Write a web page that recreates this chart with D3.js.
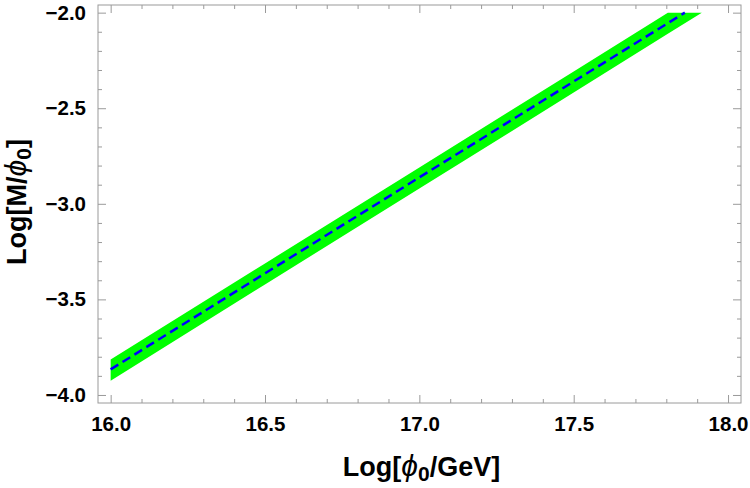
<!DOCTYPE html>
<html>
<head>
<meta charset="utf-8">
<script src="https://cdn.jsdelivr.net/npm/d3@7"></script>
<style>
  html, body { margin: 0; padding: 0; background: #fff; }
  svg { display: block; font-family: "Liberation Sans", Arial, sans-serif; }
</style>
</head>
<body>
<svg id="chart" width="750" height="488"></svg>
<script>
// ---- data ----
const lineX = [16.0, 16.5, 17.0, 17.5, 17.86];
const lineY = [-3.866, -3.364, -2.862, -2.36, -2.0];

const bandX = [16.0, 16.5, 17.0, 17.5, 17.805, 17.915];
const bandUpper = [-3.815, -3.312, -2.81, -2.308, -2.0, -2.0];
const bandLower = [-3.925, -3.422, -2.92, -2.418, -2.11, -2.0];

const xTicks = [16.0, 16.5, 17.0, 17.5, 18.0];
const yTicks = [-4.0, -3.5, -3.0, -2.5, -2.0];
const xMinor = d3.range(16.0, 18.01, 0.1);
const yMinor = d3.range(-4.0, -1.99, 0.1);

// ---- layout ----
const W = 750, H = 488;
const margin = { left: 98, top: 5, right: 9, bottom: 85 };
const iw = W - margin.left - margin.right;
const ih = H - margin.top - margin.bottom;

const svg = d3.select("#chart");
const g = svg.append("g").attr("transform", `translate(${margin.left},${margin.top})`);

const x = d3.scaleLinear().domain([15.959, 18.042]).range([0, iw]);
const y = d3.scaleLinear().domain([-4.042, -1.96]).range([ih, 0]);

const frameColor = "#9a9a9a";

// band
const bandPts = bandX.map((d, i) => [x(d), y(bandUpper[i])])
  .concat(bandX.map((d, i) => [x(d), y(bandLower[i])]).reverse());
g.append("path")
  .attr("d", d3.line()(bandPts) + "Z")
  .attr("fill", "#00ff00")
  .attr("stroke", "none");

// dashed line
g.append("path")
  .datum(lineX.map((d, i) => [d, lineY[i]]))
  .attr("d", d3.line().x(d => x(d[0])).y(d => y(d[1])))
  .attr("fill", "none")
  .attr("stroke", "#0000ff")
  .attr("stroke-width", 2.5)
  .attr("stroke-dasharray", "9,5");

// frame
g.append("rect")
  .attr("x", 0).attr("y", 0).attr("width", iw).attr("height", ih)
  .attr("fill", "none").attr("stroke", frameColor).attr("stroke-width", 1);

const fmt = d3.format(".1f");
const isMajor = (v, arr) => arr.some(t => Math.abs(t - v) < 1e-6);

function styleAxis(sel) {
  sel.select(".domain").remove();
  sel.selectAll(".tick line").attr("stroke", frameColor);
  sel.selectAll(".tick text")
    .attr("fill", "#000")
    .style("font-size", "20.5px")
    .style("font-weight", "bold")
    .style("font-family", "'Liberation Sans', Arial, sans-serif");
}

// bottom
const xb = g.append("g").attr("transform", `translate(0,${ih})`)
  .call(d3.axisBottom(x).tickValues(xMinor).tickSize(-4).tickPadding(13)
    .tickFormat(d => isMajor(d, xTicks) ? fmt(d) : ""));
xb.selectAll(".tick line").attr("y2", d => isMajor(d, xTicks) ? -8 : -4);
styleAxis(xb);

// top
const xt = g.append("g")
  .call(d3.axisTop(x).tickValues(xMinor).tickSize(-4).tickFormat(""));
xt.selectAll(".tick line").attr("y2", d => isMajor(d, xTicks) ? 8 : 4);
styleAxis(xt);

// left
const yl = g.append("g")
  .call(d3.axisLeft(y).tickValues(yMinor).tickSize(-4).tickPadding(12)
    .tickFormat(d => isMajor(d, yTicks) ? fmt(d) : ""));
yl.selectAll(".tick line").attr("x2", d => isMajor(d, yTicks) ? 8 : 4);
styleAxis(yl);

// right
const yr = g.append("g").attr("transform", `translate(${iw},0)`)
  .call(d3.axisRight(y).tickValues(yMinor).tickSize(-4).tickFormat(""));
yr.selectAll(".tick line").attr("x2", d => isMajor(d, yTicks) ? -8 : -4);
styleAxis(yr);

// axis titles
const xt1 = svg.append("text")
  .attr("x", margin.left + iw / 2 + 2)
  .attr("y", 476)
  .attr("text-anchor", "middle")
  .style("font-size", "27px").style("font-weight", "bold").attr("fill", "#000");
xt1.append("tspan").text("Log[");
xt1.append("tspan").style("font-style", "italic").style("font-weight", "normal").style("font-size", "30px").text("ϕ");
xt1.append("tspan").attr("dy", 5).style("font-size", "21px").text("0");
xt1.append("tspan").attr("dy", -5).text("/GeV]");

const yt1 = svg.append("text")
  .attr("transform", `translate(26,${margin.top + ih / 2 - 2}) rotate(-90)`)
  .attr("text-anchor", "middle")
  .style("font-size", "27px").style("font-weight", "bold").attr("fill", "#000");
yt1.append("tspan").text("Log[M/");
yt1.append("tspan").style("font-style", "italic").style("font-weight", "normal").style("font-size", "30px").text("ϕ");
yt1.append("tspan").attr("dy", 5).style("font-size", "21px").text("0");
yt1.append("tspan").attr("dy", -5).text("]");
</script>
</body>
</html>
